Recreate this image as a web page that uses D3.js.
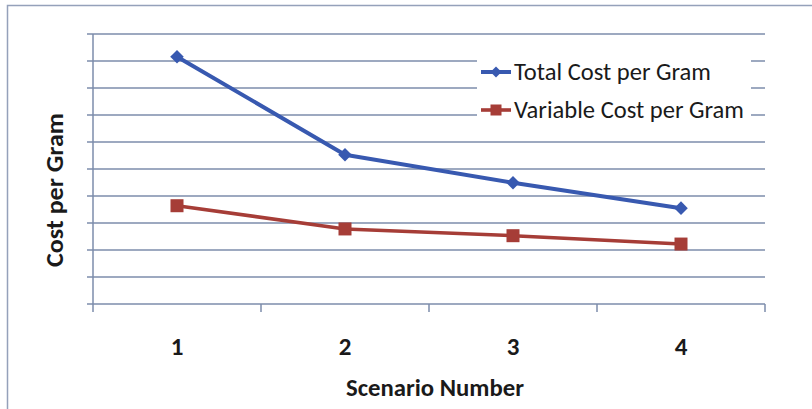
<!DOCTYPE html>
<html>
<head>
<meta charset="utf-8">
<script src="https://cdn.jsdelivr.net/npm/d3@7"></script>
<style>
  html, body { margin: 0; padding: 0; background: #fff; }
  svg { display: block; }
  text { font-family: Calibri, Carlito, Lato, "Open Sans", sans-serif; fill: #1a1a1a; }
</style>
</head>
<body>
<svg id="chart" width="812" height="409"></svg>
<script>
// Scenarios on the x axis
const scenarios = [1, 2, 3, 4];
// Cost per gram for each scenario (in gridline units)
const totalCost = [9.16, 5.53, 4.49, 3.55];
const variableCost = [3.64, 2.78, 2.53, 2.22];
const seriesNames = ["Total Cost per Gram", "Variable Cost per Gram"];
const yTicks = [0, 1, 2, 3, 4, 5, 6, 7, 8, 9, 10];

const svg = d3.select("#chart");
const gridColor = "#7d8cab";
const blue = "#3859b0";
const red = "#a63d37";

const plot = { left: 93, right: 765, top: 34, bottom: 304 };

const x = d3.scaleBand().domain(scenarios).range([plot.left, plot.right]).padding(0);
const y = d3.scaleLinear().domain([0, 10]).range([plot.bottom, plot.top]);
const cx = d => x(d) + x.bandwidth() / 2;

// Outer chart frame
svg.append("rect")
  .attr("x", 7.5).attr("y", 5.5)
  .attr("width", 830).attr("height", 430)
  .attr("fill", "#fff")
  .attr("stroke", "#95a1ba").attr("stroke-width", 1.5);

// Horizontal gridlines with short ticks left of the value axis
svg.append("g").selectAll("line")
  .data(yTicks)
  .join("line")
  .attr("x1", plot.left - 6).attr("x2", plot.right)
  .attr("y1", d => y(d)).attr("y2", d => y(d))
  .attr("stroke", gridColor).attr("stroke-width", 1.5);

// Value axis line
svg.append("line")
  .attr("x1", plot.left).attr("x2", plot.left)
  .attr("y1", y(10)).attr("y2", y(0) + 8)
  .attr("stroke", gridColor).attr("stroke-width", 1.5);

// Category axis tick marks at band boundaries
const edges = scenarios.map(d => x(d)).concat([x(scenarios[scenarios.length - 1]) + x.bandwidth()]);
svg.append("g").selectAll("line")
  .data(edges.slice(1))
  .join("line")
  .attr("x1", d => d).attr("x2", d => d)
  .attr("y1", y(0)).attr("y2", y(0) + 8)
  .attr("stroke", gridColor).attr("stroke-width", 1.5);

// Category labels
const xAxis = d3.axisBottom(x).tickSize(0).tickPadding(0);
const gx = svg.append("g")
  .attr("transform", `translate(0,${y(0)})`)
  .call(xAxis);
gx.select(".domain").remove();
gx.selectAll("text")
  .attr("y", 51).attr("dy", null)
  .style("font-size", "25px").style("font-weight", "bold")
  .style("font-family", "Calibri, Carlito, Lato, sans-serif")
  .attr("fill", "#1a1a1a");

// Axis titles
svg.append("text")
  .attr("x", 435).attr("y", 396)
  .attr("text-anchor", "middle")
  .attr("textLength", 178).attr("lengthAdjust", "spacingAndGlyphs")
  .style("font-size", "25px").style("font-weight", "bold")
  .text("Scenario Number");

svg.append("text")
  .attr("transform", "translate(63,190) rotate(-90)")
  .attr("text-anchor", "middle")
  .attr("textLength", 154).attr("lengthAdjust", "spacingAndGlyphs")
  .style("font-size", "25px").style("font-weight", "bold")
  .text("Cost per Gram");

// Series lines and markers
const line = d3.line().x((d, i) => cx(scenarios[i])).y(d => y(d));

svg.append("path")
  .datum(variableCost)
  .attr("d", line)
  .attr("fill", "none").attr("stroke", red).attr("stroke-width", 3.6)
  .attr("stroke-linejoin", "round");

svg.append("path")
  .datum(totalCost)
  .attr("d", line)
  .attr("fill", "none").attr("stroke", blue).attr("stroke-width", 4)
  .attr("stroke-linejoin", "round");

const diamond = d3.symbol().type(d3.symbolSquare).size(92);
svg.append("g").selectAll("path")
  .data(totalCost)
  .join("path")
  .attr("d", diamond)
  .attr("transform", (d, i) => `translate(${cx(scenarios[i])},${y(d)}) rotate(45)`)
  .attr("fill", blue);

svg.append("g").selectAll("rect")
  .data(variableCost)
  .join("rect")
  .attr("x", (d, i) => cx(scenarios[i]) - 6.5)
  .attr("y", d => y(d) - 6.5)
  .attr("width", 13).attr("height", 13)
  .attr("fill", red);

// Legend
const legend = svg.append("g");
legend.append("rect")
  .attr("x", 477).attr("y", 46)
  .attr("width", 274).attr("height", 84)
  .attr("fill", "#fff");

const legendRows = [
  { name: seriesNames[0], color: blue, marker: "diamond", cy: 72, len: 197 },
  { name: seriesNames[1], color: red, marker: "square", cy: 110, len: 230 }
];
legendRows.forEach(r => {
  legend.append("line")
    .attr("x1", 481).attr("x2", 511)
    .attr("y1", r.cy).attr("y2", r.cy)
    .attr("stroke", r.color).attr("stroke-width", r.marker === "diamond" ? 4 : 3.6);
  if (r.marker === "diamond") {
    legend.append("path")
      .attr("d", d3.symbol().type(d3.symbolSquare).size(60))
      .attr("transform", `translate(496,${r.cy}) rotate(45)`)
      .attr("fill", r.color);
  } else {
    legend.append("rect")
      .attr("x", 490.5).attr("y", r.cy - 5.5)
      .attr("width", 11).attr("height", 11)
      .attr("fill", r.color);
  }
  legend.append("text")
    .attr("x", 514).attr("y", r.cy + 8)
    .attr("textLength", r.len).attr("lengthAdjust", "spacingAndGlyphs")
    .style("font-size", "24px")
    .style("font-weight", 500)
    .text(r.name);
});
</script>
</body>
</html>
